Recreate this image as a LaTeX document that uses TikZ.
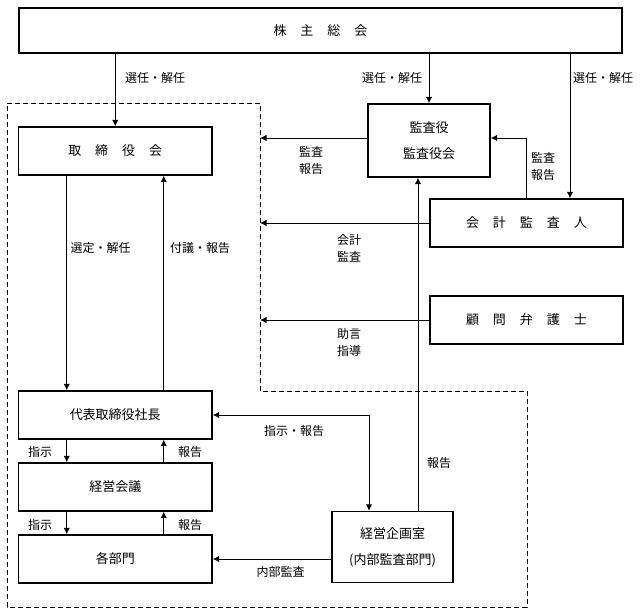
\documentclass[tikz,border=0pt]{standalone}
\usepackage{fontspec}
\newfontfamily\jp{Noto Sans CJK JP}
\usetikzlibrary{arrows.meta}
\newcommand{\jgap}{\hspace{14pt}}
\tikzset{%
    box/.style={draw, line width=1.4pt, inner sep=0pt, align=center,
        font=\jp\fontsize{13}{26}\selectfont},
    lbl/.style={inner sep=0pt, align=center,
        font=\jp\fontsize{12}{17}\selectfont},
    link/.style={->, line width=1pt},
    frame/.style={line width=1pt, dash pattern=on 5pt off 3pt}
}
\begin{document}
\begin{tikzpicture}[x=1pt,y=-1pt,>={Latex[length=6.5pt,width=6.5pt]}]
    \useasboundingbox (0,0) rectangle (641,614);
%-----------------------------------------------
    \node[box, minimum width=603pt, minimum height=45pt] (shareholders) at (320.5,30.5) {株\jgap 主\jgap 総\jgap 会};
    \node[box, minimum width=193.5pt, minimum height=48pt] (board) at (115.25,151) {取\jgap 締\jgap 役\jgap 会};
    \node[box, minimum width=122pt, minimum height=73pt] (auditor) at (429,140.5) {監査役\\監査役会};
    \node[box, minimum width=193pt, minimum height=48pt] (accountant) at (526.5,223) {会\jgap 計\jgap 監\jgap 査\jgap 人};
    \node[box, minimum width=193pt, minimum height=48pt] (lawyer) at (526.5,320) {顧\jgap 問\jgap 弁\jgap 護\jgap 士};
    \node[box, minimum width=193.5pt, minimum height=48pt] (president) at (115.25,415) {代表取締役社長};
    \node[box, minimum width=193.5pt, minimum height=48pt] (mgmt) at (115.25,487) {経営会議};
    \node[box, minimum width=193.5pt, minimum height=48pt] (depts) at (115.25,559) {各部門};
    \node[box, minimum width=121pt, minimum height=71pt] (planning) at (392.5,547) {経営企画室\\(内部監査部門)};
%-----------------------------------------------
    \coordinate (fNW) at (7,103);
    \coordinate (fNE) at (260,103);
    \coordinate (fMid) at (260,391);
    \coordinate (fE) at (527,391);
    \coordinate (fSE) at (527,607);
    \coordinate (fSW) at (7,607);
    \draw[frame] (fNW) -- (fNE) -- (fMid) -- (fE) -- (fSE) -- (fSW) -- cycle;
%-----------------------------------------------
    \coordinate (accIn) at ([xshift=43.5pt]accountant.north);
    \coordinate (audL) at ([yshift=2.5pt]auditor.west);
    \coordinate (audR) at ([yshift=2.5pt]auditor.east);
    \coordinate (planUp) at ([xshift=25.5pt]planning.north);
    \coordinate (planDn) at ([xshift=-23.5pt]planning.north);
%-----------------------------------------------
    \draw[link] (shareholders.south -| board.north) -- (board.north);
    \draw[link] (shareholders.south -| auditor.north) -- (auditor.north);
    \draw[link] (shareholders.south -| accIn) -- (accIn);
    \draw[link] (audL) -- (audL -| fNE);
    \draw[link] (accountant.north) |- (audR);
    \draw[link] (accountant.west) -- (accountant.west -| fNE);
    \draw[link] (lawyer.west) -- (lawyer.west -| fNE);
    \draw[link] (planUp) -- (planUp |- auditor.south);
%-----------------------------------------------
    \draw[link] ([xshift=-48.5pt]board.south) -- ([xshift=-48.5pt]president.north);
    \draw[link] ([xshift=48.5pt]president.north) -- ([xshift=48.5pt]board.south);
    \draw[link] ([xshift=-48.5pt]president.south) -- ([xshift=-48.5pt]mgmt.north);
    \draw[link] ([xshift=48.5pt]mgmt.north) -- ([xshift=48.5pt]president.south);
    \draw[link] ([xshift=-48.5pt]mgmt.south) -- ([xshift=-48.5pt]depts.north);
    \draw[link] ([xshift=48.5pt]depts.north) -- ([xshift=48.5pt]mgmt.south);
    \draw[link,<->] (president.east) -| (planDn);
    \draw[link] (planning.west |- depts.east) -- (depts.east);
%-----------------------------------------------
    \node[lbl] (lSelA) at (155,78) {選任・解任};
    \node[lbl] (lSelB) at (392,78) {選任・解任};
    \node[lbl] (lSelC) at (603,78) {選任・解任};
    \node[lbl] (lAudA) at (311,160) {監査\\報告};
    \node[lbl] (lAudB) at (543,166) {監査\\報告};
    \node[lbl] (lAcc) at (349,248.5) {会計\\監査};
    \node[lbl] (lLaw) at (349,342.5) {助言\\指導};
    \node[lbl] (lElect) at (100.6,248) {選定・解任};
    \node[lbl] (lRefer) at (200,248) {付議・報告};
    \node[lbl] (lInstr) at (294,431) {指示・報告};
    \node[lbl] (lRepP) at (439,463) {報告};
    \node[lbl] (lDirA) at (40,452) {指示};
    \node[lbl] (lRepA) at (190,452) {報告};
    \node[lbl] (lDirB) at (40,525) {指示};
    \node[lbl] (lRepB) at (190,525) {報告};
    \node[lbl] (lInt) at (280.6,572) {内部監査};
\end{tikzpicture}
\end{document}
